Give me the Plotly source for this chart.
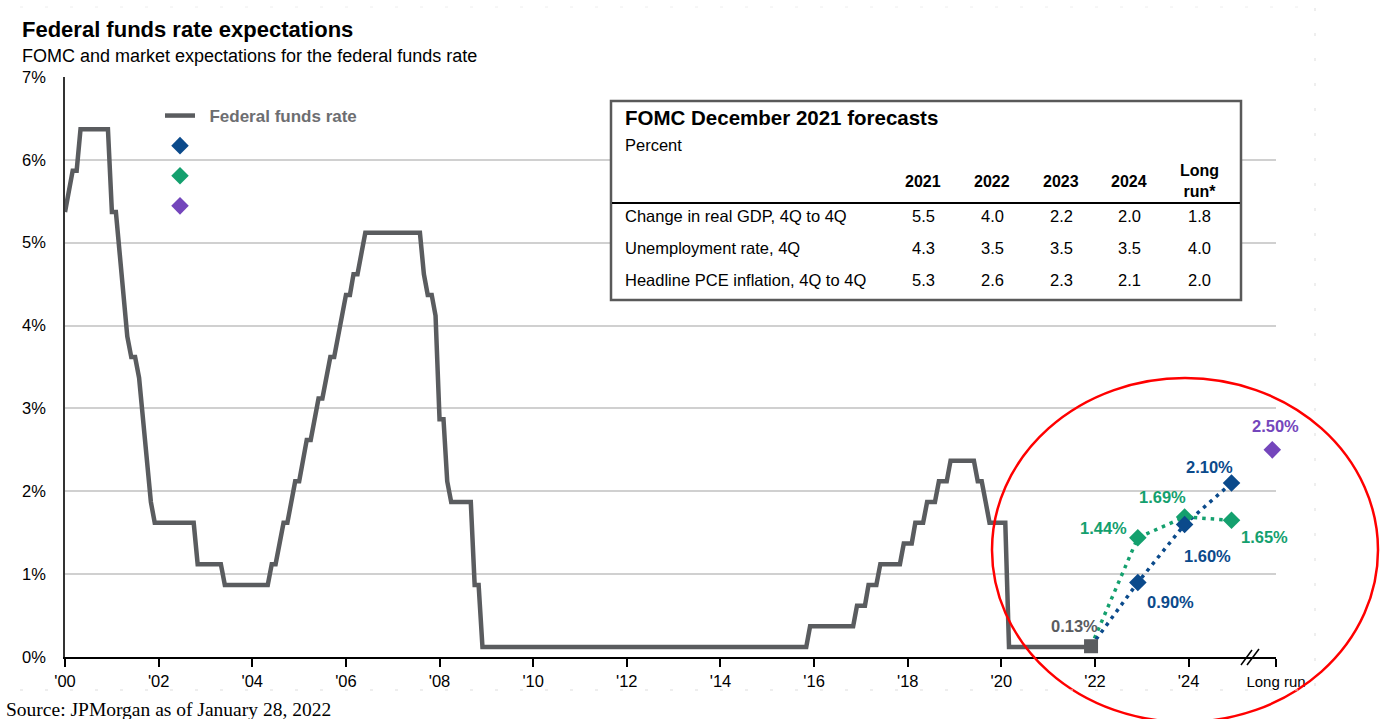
import plotly.graph_objects as go

# ---------------------------------------------------------------- data
# Federal funds rate: month and level at each turning point of the line
ffr_dates = [
    "2000-01", "2000-03", "2000-04", "2000-05", "2000-12", "2001-01", "2001-02",
    "2001-03", "2001-04", "2001-05", "2001-06", "2001-07", "2001-08", "2001-09",
    "2001-10", "2001-11", "2001-12", "2002-10", "2002-11", "2003-05", "2003-06",
    "2004-05", "2004-06", "2004-07", "2004-08", "2004-09", "2004-10", "2004-11",
    "2004-12", "2005-01", "2005-02", "2005-03", "2005-04", "2005-05", "2005-06",
    "2005-07", "2005-08", "2005-09", "2005-10", "2005-11", "2005-12", "2006-01",
    "2006-02", "2006-03", "2006-04", "2006-05", "2006-06", "2007-08", "2007-09",
    "2007-10", "2007-11", "2007-12", "2008-01", "2008-02", "2008-03", "2008-04",
    "2008-09", "2008-10", "2008-11", "2008-12", "2015-11", "2015-12", "2016-11",
    "2016-12", "2017-02", "2017-03", "2017-05", "2017-06", "2017-11", "2017-12",
    "2018-02", "2018-03", "2018-05", "2018-06", "2018-08", "2018-09", "2018-11",
    "2018-12", "2019-06", "2019-07", "2019-08", "2019-09", "2019-10", "2020-02",
    "2020-03", "2021-12",
]
ffr_values = [
    5.37, 5.87, 5.87, 6.37, 6.37, 5.37, 5.37,
    4.87, 4.37, 3.87, 3.62, 3.62, 3.37, 2.87,
    2.37, 1.87, 1.62, 1.62, 1.12, 1.12, 0.87,
    0.87, 1.12, 1.12, 1.37, 1.62, 1.62, 1.87,
    2.12, 2.12, 2.37, 2.62, 2.62, 2.87, 3.12,
    3.12, 3.37, 3.62, 3.62, 3.87, 4.12, 4.37,
    4.37, 4.62, 4.62, 4.87, 5.12, 5.12, 4.62,
    4.37, 4.37, 4.12, 2.87, 2.87, 2.12, 1.87,
    1.87, 0.87, 0.87, 0.12, 0.12, 0.37, 0.37,
    0.62, 0.62, 0.87, 0.87, 1.12, 1.12, 1.37,
    1.37, 1.62, 1.62, 1.87, 1.87, 2.12, 2.12,
    2.37, 2.37, 2.12, 2.12, 1.87, 1.62, 1.62,
    0.12, 0.12,
]

# Current rate and year-end expectations
current_date = "2021-12"
current_value = 0.13
proj_dates = ["2022-12", "2023-12", "2024-12"]
fomc_values = [0.90, 1.60, 2.10]      # FOMC median projection
market_values = [1.44, 1.69, 1.65]    # market-implied path
long_run_date = "2025-10-15"
long_run_value = 2.50

x_tick_dates = ["2000-01-01", "2002-01-01", "2004-01-01", "2006-01-01", "2008-01-01",
                "2010-01-01", "2012-01-01", "2014-01-01", "2016-01-01", "2018-01-01",
                "2020-01-01", "2022-01-01", "2024-01-01", "2025-11-13"]
x_tick_text = ["'00", "'02", "'04", "'06", "'08", "'10", "'12", "'14", "'16", "'18",
               "'20", "'22", "'24", "<span style='font-size:15px'>Long run</span>"]
y_tick_vals = [0, 1, 2, 3, 4, 5, 6, 7]
y_tick_text = [f"{v}%" for v in y_tick_vals]

# FOMC December 2021 forecast table
table_cols = ["2021", "2022", "2023", "2024", "Long<br>run*"]
table_rows = ["Change in real GDP, 4Q to 4Q", "Unemployment rate, 4Q",
              "Headline PCE inflation, 4Q to 4Q"]
gdp_fc = [5.5, 4.0, 2.2, 2.0, 1.8]
unemp_fc = [4.3, 3.5, 3.5, 3.5, 4.0]
pce_fc = [5.3, 2.6, 2.3, 2.1, 2.0]
table_vals = [gdp_fc, unemp_fc, pce_fc]

# ---------------------------------------------------------------- styling
W, H = 1382, 719
L, R, T, B = 65, 106, 77, 62
PW, PH = W - L - R, H - T - B
FONT = "Liberation Sans, Arial, sans-serif"
GRAY = "#5a5c5f"
BLUE = "#0b4a8b"
GREEN = "#14a06e"
PURPLE = "#7446bc"


def fx(p):
    """pixel column -> paper x"""
    return (p - L) / PW


def fy(p):
    """pixel row -> paper y"""
    return (H - B - p) / PH


fig = go.Figure()

fig.add_trace(go.Scatter(
    x=ffr_dates, y=ffr_values, mode="lines", name="\u00a0\u00a0Federal funds rate",
    line=dict(color=GRAY, width=4.5), legendrank=1, legendgroup="a",
    hoverinfo="skip"))

fig.add_trace(go.Scatter(
    x=[current_date] + proj_dates, y=[current_value] + market_values, mode="lines",
    line=dict(color=GREEN, width=3.5, dash="3.5px,5px"), showlegend=False))
fig.add_trace(go.Scatter(
    x=[current_date] + proj_dates, y=[current_value] + fomc_values, mode="lines",
    line=dict(color=BLUE, width=3.5, dash="3.5px,5px"), showlegend=False))

DSIZE = 13.5
fig.add_trace(go.Scatter(
    x=proj_dates, y=market_values, mode="markers", name=" ", cliponaxis=False,
    marker=dict(symbol="diamond", size=DSIZE, color=GREEN), legendrank=3, legendgroup="c"))
fig.add_trace(go.Scatter(
    x=proj_dates, y=fomc_values, mode="markers", name=" ", cliponaxis=False,
    marker=dict(symbol="diamond", size=DSIZE, color=BLUE), legendrank=2, legendgroup="b"))
fig.add_trace(go.Scatter(
    x=[long_run_date], y=[long_run_value], mode="markers", name=" ", cliponaxis=False,
    marker=dict(symbol="diamond", size=DSIZE, color=PURPLE), legendrank=4, legendgroup="d"))
fig.add_trace(go.Scatter(
    x=[current_date], y=[current_value], mode="markers", cliponaxis=False,
    marker=dict(symbol="square", size=14, color=GRAY), showlegend=False))

annotations = []


def value_label(x, v, color, dx, dy):
    annotations.append(dict(
        x=x, y=v, xref="x", yref="y", text=f"{v:.2f}%", showarrow=False,
        xshift=dx, yshift=dy, font=dict(family=FONT, size=16.5, color=color, weight="bold")))


value_label(current_date, current_value, GRAY, -17, 20)
for d, v, dx, dy in zip(proj_dates, fomc_values, [33, 23, -22], [-20, -32, 16]):
    value_label(d, v, BLUE, dx, dy)
for d, v, dx, dy in zip(proj_dates, market_values, [-34, -22, 33], [10, 20, -17]):
    value_label(d, v, GREEN, dx, dy)
value_label(long_run_date, long_run_value, PURPLE, 3, 24)

# titles and source
annotations += [
    dict(x=fx(20), y=fy(29), xref="paper", yref="paper", xanchor="left", yanchor="middle",
         text="Federal funds rate expectations", showarrow=False,
         font=dict(family=FONT, size=22, color="black", weight="bold")),
    dict(x=fx(20), y=fy(56), xref="paper", yref="paper", xanchor="left", yanchor="middle",
         text="FOMC and market expectations for the federal funds rate", showarrow=False,
         font=dict(family=FONT, size=18, color="black")),
    dict(x=fx(4), y=fy(709), xref="paper", yref="paper", xanchor="left", yanchor="middle",
         text="Source: JPMorgan as of January 28, 2022", showarrow=False,
         font=dict(family="Liberation Serif, Times New Roman, serif", size=19.5, color="black")),
]

# forecast table text
TX0 = 623
col_x = [923, 992, 1061, 1129, 1199]
row_y = [216, 248, 280]
annotations += [
    dict(x=fx(TX0), y=fy(118), xref="paper", yref="paper", xanchor="left", yanchor="middle",
         text="FOMC December 2021 forecasts", showarrow=False,
         font=dict(family=FONT, size=20.5, color="black", weight="bold")),
    dict(x=fx(TX0), y=fy(145), xref="paper", yref="paper", xanchor="left", yanchor="middle",
         text="Percent", showarrow=False, font=dict(family=FONT, size=16.5, color="black")),
]
for cx, c in zip(col_x, table_cols):
    annotations.append(dict(
        x=fx(cx), y=fy(181), xref="paper", yref="paper", xanchor="center", yanchor="middle",
        text=c, showarrow=False, font=dict(family=FONT, size=16, color="black", weight="bold")))
for ry, name, vals in zip(row_y, table_rows, table_vals):
    annotations.append(dict(
        x=fx(TX0), y=fy(ry), xref="paper", yref="paper", xanchor="left", yanchor="middle",
        text=name, showarrow=False, font=dict(family=FONT, size=16.5, color="black")))
    for cx, v in zip(col_x, vals):
        annotations.append(dict(
            x=fx(cx), y=fy(ry), xref="paper", yref="paper", xanchor="center", yanchor="middle",
            text=f"{v:.1f}", showarrow=False, font=dict(family=FONT, size=16.5, color="black")))

shapes = [
    # forecast table frame and header rule
    dict(type="rect", xref="paper", yref="paper", x0=fx(611), x1=fx(1241), y0=fy(300),
         y1=fy(101), line=dict(color="#595959", width=2.5), fillcolor="white", layer="above"),
    dict(type="line", xref="paper", yref="paper", x0=fx(612), x1=fx(1240), y0=fy(203),
         y1=fy(203), line=dict(color="black", width=2), layer="above"),
    # axis break before the long-run point
    dict(type="line", xref="paper", yref="paper", x0=fx(1241), x1=fx(1252), y0=fy(665),
         y1=fy(650), line=dict(color="black", width=1.5)),
    dict(type="line", xref="paper", yref="paper", x0=fx(1247), x1=fx(1259), y0=fy(665),
         y1=fy(649), line=dict(color="black", width=1.5)),
    # highlight around the projections
    dict(type="circle", xref="paper", yref="paper", x0=fx(992), x1=fx(1378), y0=fy(722),
         y1=fy(378), line=dict(color="#ff0000", width=2.5), layer="above"),
    # faint page guides
    dict(type="line", xref="paper", yref="paper", x0=fx(20), x1=fx(1315), y0=fy(690),
         y1=fy(690), line=dict(color="#dddddd", width=1, dash="3px,22px")),
    dict(type="line", xref="paper", yref="paper", x0=fx(1315), x1=fx(1315), y0=fy(8),
         y1=fy(690), line=dict(color="#dddddd", width=1, dash="3px,22px")),
    dict(type="line", xref="paper", yref="paper", x0=fx(20), x1=fx(1315), y0=fy(7),
         y1=fy(7), line=dict(color="#eeeeee", width=1, dash="3px,22px")),
]

fig.update_layout(
    width=W, height=H, margin=dict(l=L, r=R, t=T, b=B),
    paper_bgcolor="white", plot_bgcolor="white",
    font=dict(family=FONT, size=16, color="black"),
    showlegend=True,
    legend=dict(x=fx(160), y=fy(98), xanchor="left", yanchor="top",
                bgcolor="rgba(0,0,0,0)", tracegroupgap=5, traceorder="grouped",
                font=dict(family=FONT, size=17, color="#6d6e71", weight="bold")),
    xaxis=dict(type="date", range=["2000-01-01", "2025-11-13"], tickvals=x_tick_dates,
               ticktext=x_tick_text, ticks="outside", ticklen=8, tickwidth=1.5,
               tickcolor="black", showline=True, linecolor="black", linewidth=1.5,
               showgrid=False, zeroline=False, tickfont=dict(size=16.5, color="black")),
    yaxis=dict(range=[0, 7], tickvals=y_tick_vals, ticktext=y_tick_text, ticks="",
               showgrid=True, gridcolor="#d0d0d0", gridwidth=1.5, zeroline=False,
               showline=True, linecolor="#333333", linewidth=1.5, ticklabelstandoff=14,
               tickfont=dict(size=16.5, color="black")),
    annotations=annotations, shapes=shapes,
)

fig.write_html("out.html")
